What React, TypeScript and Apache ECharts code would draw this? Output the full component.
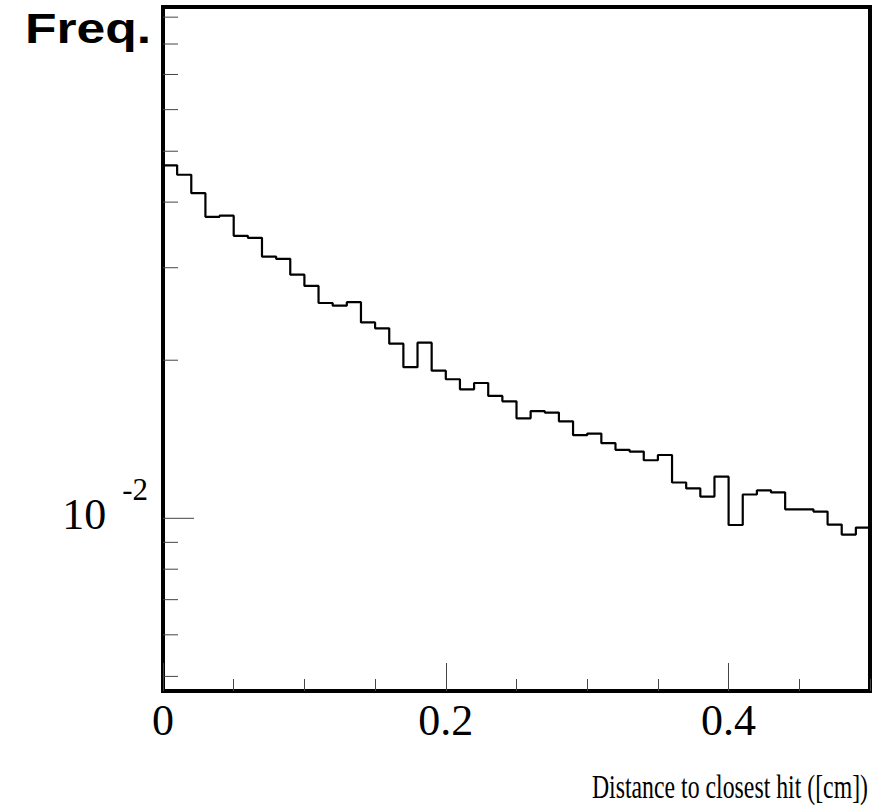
import React, { useEffect, useRef } from "react";
import * as echarts from "echarts";

// ---- data ----
const BIN_WIDTH = 0.01;
const freqValues = [
  0.047, 0.0451, 0.0416, 0.0375, 0.0377, 0.0345, 0.0342, 0.0315, 0.0312, 0.0291,
  0.0277, 0.0257, 0.0254, 0.0258, 0.0236, 0.023, 0.0215, 0.0194, 0.0216, 0.0191,
  0.0184, 0.0176, 0.0181, 0.0171, 0.0167, 0.0155, 0.016, 0.0159, 0.0153, 0.0144,
  0.0145, 0.0139, 0.0135, 0.0134, 0.0129, 0.0132, 0.0117, 0.0114, 0.011, 0.012,
  0.00971, 0.0111, 0.0113, 0.0112, 0.0104, 0.0104, 0.0103, 0.00973, 0.00931, 0.0096,
];
const xMajorTicks = [0, 0.2, 0.4];
const xMinorStep = 0.05;
const yMajorTicks = [0.01];
const yMinorTicks = [
  0.005, 0.006, 0.007, 0.008, 0.009, 0.02, 0.03, 0.04, 0.05, 0.06, 0.07, 0.08, 0.09,
];
const X_MIN = 0;
const X_MAX = 0.5;
const Y_MIN = 0.00469;
const Y_MAX = 0.0941;
const X_TITLE = "Distance to closest hit ([cm])";
const Y_TITLE = "Freq.";

const SERIF = '"Liberation Serif", "DejaVu Serif", serif';
const SANS = '"Liberation Sans", Arial, sans-serif';

export default function App() {
  const ref = useRef<HTMLDivElement>(null);

  useEffect(() => {
    document.body.style.margin = "0";
    const chart = echarts.init(ref.current!, null, { renderer: "svg" });

    const histData: [number, number][] = freqValues.map((v, i) => [i * BIN_WIDTH, v]);
    histData.push([freqValues.length * BIN_WIDTH, freqValues[freqValues.length - 1]]);

    const yTickData = [
      ...yMajorTicks.map((v) => [X_MIN, v, 1]),
      ...yMinorTicks.map((v) => [X_MIN, v, 0]),
    ];

    chart.setOption({
      animation: false,
      backgroundColor: "#fff",
      grid: {
        left: 163,
        right: 15,
        top: 7,
        bottom: 117,
        show: true,
        borderColor: "#000",
        borderWidth: 4,
        backgroundColor: "transparent",
        containLabel: false,
      },
      xAxis: [
        {
          type: "value",
          min: X_MIN,
          max: X_MAX,
          interval: 0.2,
          axisLine: { show: false },
          splitLine: { show: false },
          axisTick: {
            show: true,
            inside: true,
            length: 28,
            lineStyle: { color: "#444", width: 1 },
          },
          axisLabel: {
            show: true,
            margin: 7,
            fontSize: 44,
            fontFamily: SERIF,
            color: "#000",
            showMaxLabel: false,
            formatter: (v: number) =>
              xMajorTicks.some((t) => Math.abs(t - v) < 1e-9) ? String(v) : "",
          },
        },
        {
          type: "value",
          min: X_MIN,
          max: X_MAX,
          interval: xMinorStep,
          position: "bottom",
          axisLine: { show: false },
          splitLine: { show: false },
          axisLabel: { show: false },
          axisTick: {
            show: true,
            inside: true,
            length: 12,
            lineStyle: { color: "#444", width: 1 },
          },
        },
      ],
      yAxis: {
        type: "log",
        logBase: 10,
        min: Y_MIN,
        max: Y_MAX,
        axisLine: { show: false },
        splitLine: { show: false },
        axisTick: { show: false },
        axisLabel: {
          show: true,
          margin: 15,
          padding: [0, 0, 26, 0],
          formatter: (v: number) =>
            yMajorTicks.some((t) => Math.abs(Math.log10(v) - Math.log10(t)) < 1e-6)
              ? "{m|10}{s|" + String(Math.round(Math.log10(v))) + "}"
              : "",
          rich: {
            m: {
              fontSize: 44,
              fontFamily: SERIF,
              color: "#000",
              lineHeight: 44,
              verticalAlign: "bottom",
            },
            s: {
              fontSize: 31,
              fontFamily: SERIF,
              color: "#000",
              lineHeight: 62,
              verticalAlign: "top",
              padding: [0, 0, 0, 16],
            },
          },
        },
      },
      graphic: [
        {
          type: "text",
          x: 25,
          y: 7,
          scaleX: 1.2,
          style: {
            text: Y_TITLE,
            fontSize: 43,
            fontWeight: "bold",
            fontFamily: SANS,
            fill: "#000",
            align: "left",
            verticalAlign: "top",
          },
        },
        {
          type: "text",
          x: 868,
          y: 786,
          scaleX: 0.7,
          style: {
            text: X_TITLE,
            fontSize: 34,
            fontFamily: SERIF,
            fill: "#000",
            align: "right",
            verticalAlign: "middle",
          },
        },
      ],
      series: [
        {
          type: "line",
          step: "end",
          data: histData,
          xAxisIndex: 0,
          yAxisIndex: 0,
          showSymbol: false,
          symbol: "none",
          lineStyle: { color: "#000", width: 2.2 },
          z: 3,
        },
        {
          type: "custom",
          xAxisIndex: 0,
          yAxisIndex: 0,
          data: yTickData,
          silent: true,
          clip: false,
          renderItem: (params: any, api: any) => {
            const p = api.coord([api.value(0), api.value(1)]);
            const len = api.value(2) === 1 ? 31 : 15;
            return {
              type: "line",
              shape: { x1: p[0], y1: p[1], x2: p[0] + len, y2: p[1] },
              style: { stroke: "#444", lineWidth: 1 },
            };
          },
          z: 2,
        },
      ],
    });

    return () => chart.dispose();
  }, []);

  return (
    <div
      ref={ref}
      style={{ position: "absolute", left: 0, top: 0, width: 885, height: 808 }}
    />
  );
}
